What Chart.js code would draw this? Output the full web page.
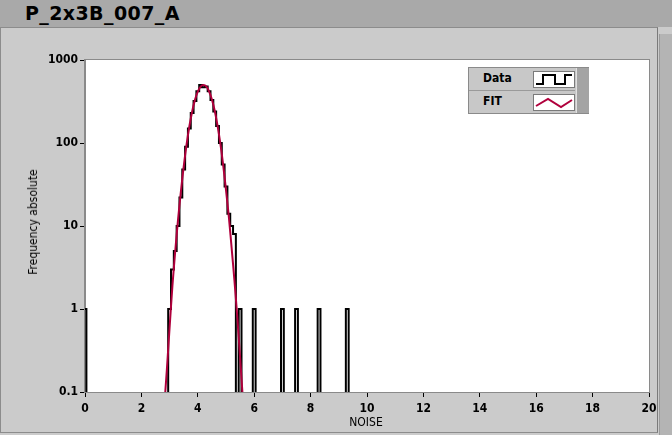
<!DOCTYPE html>
<html lang="en">
<head>
    <meta charset="UTF-8">
    <title>P_2x3B_007_A</title>
    <script src="https://cdn.jsdelivr.net/npm/chart.js"></script>
    <style>
        body {
            margin: 0;
            width: 672px;
            height: 435px;
            overflow: hidden;
            position: relative;
            background: #cbcbcb;
            font-family: 'DejaVu Sans Condensed', 'DejaVu Sans', sans-serif;
        }

        #topbar {
            position: absolute;
            left: 0; top: 0;
            width: 672px; height: 27px;
            background: #a9a9a9;
        }

        #title {
            position: absolute;
            left: 25px; top: 2px;
            font-family: 'DejaVu Sans', sans-serif;
            font-size: 19px;
            font-weight: bold;
            letter-spacing: 0.4px;
            color: #000;
        }

        #panel {
            position: absolute;
            left: 0; top: 27px;
            width: 656px; height: 404px;
            border-top: 1px solid #8c8c8c;
            border-left: 1px solid #8c8c8c;
            border-bottom: 1px solid #8c8c8c;
            border-right: 1px solid #7a7a7a;
            background: #cbcbcb;
        }

        #scrollbar {
            position: absolute;
            left: 659px; top: 34px;
            width: 13px; height: 401px;
            background: #b4b4b4;
            border-left: 1px solid #9a9a9a;
        }

        #chart {
            position: absolute;
            left: 0; top: 0;
        }

        .axis-title {
            position: absolute;
            font-size: 12px;
            color: #000;
            white-space: nowrap;
        }

        #ytitle {
            left: 33px; top: 222px;
            transform: translate(-50%, -50%) rotate(-90deg);
        }

        #xtitle {
            left: 366px; top: 422px;
            transform: translate(-50%, -50%);
        }

        #legend {
            position: absolute;
            left: 468px; top: 67px;
            width: 119px; height: 45px;
            background: #c8c8c8;
            border: 1px solid #8a8a8a;
        }

        .lg-row {
            position: absolute;
            left: 0;
            width: 106px; height: 22px;
        }

        .lg-label {
            position: absolute;
            left: 14px; top: 3px;
            font-size: 12px;
            font-weight: bold;
        }

        .lg-icon {
            position: absolute;
            left: 64px; top: 3px;
            width: 40px; height: 15px;
            background: #fff;
            border: 1px solid #7a7a7a;
        }

        #lg-strip {
            position: absolute;
            left: 107px; top: 0;
            width: 12px; height: 45px;
            background: #a4a4a4;
            border-left: 1px solid #e0e0e0;
        }
    </style>
</head>
<body>
    <div id="topbar"><div id="title">P_2x3B_007_A</div></div>
    <div id="panel"></div>
    <div id="scrollbar"></div>
    <canvas id="chart" width="672" height="435"></canvas>
    <div class="axis-title" id="ytitle">Frequency absolute</div>
    <div class="axis-title" id="xtitle">NOISE</div>
    <div id="legend">
        <div class="lg-row" style="top:0px">
            <span class="lg-label">Data</span>
            <div class="lg-icon">
                <svg width="40" height="15"><polyline points="2,12 9,12 9,3 21,3 21,12 31,12 31,3 38,3" fill="none" stroke="#000" stroke-width="2"/></svg>
            </div>
        </div>
        <div class="lg-row" style="top:22px; border-top:1px solid #9a9a9a">
            <span class="lg-label">FIT</span>
            <div class="lg-icon">
                <svg width="40" height="15"><polyline points="2,11 14,4 27,12 38,5" fill="none" stroke="#b0003c" stroke-width="2"/></svg>
            </div>
        </div>
        <div id="lg-strip"></div>
    </div>

    <script>
        // histogram bins (centre of each 0.1 wide bin) and counts
        const binWidth = 0.1;
        const binCenters = [0.0, 3.0, 3.1, 3.2, 3.3, 3.4, 3.5, 3.6, 3.7, 3.8, 3.9, 4.0, 4.1, 4.2, 4.3, 4.4,
                            4.5, 4.6, 4.7, 4.8, 4.9, 5.0, 5.1, 5.2, 5.3, 5.5, 6.0, 7.0, 7.5, 8.3, 9.3];
        const binCounts = [1, 1, 3, 5, 10, 22, 48, 90, 150, 230, 320, 420, 500, 470, 480, 420,
                           330, 240, 160, 100, 55, 30, 14, 10, 8, 1, 1, 1, 1, 1, 1];

        // fitted curve
        const fitX = [2.8, 2.9, 3.0, 3.1, 3.2, 3.3, 3.4, 3.5, 3.6, 3.7, 3.8, 3.9, 4.0, 4.1, 4.2,
                      4.3, 4.4, 4.5, 4.6, 4.7, 4.8, 4.9, 5.0, 5.1, 5.2, 5.3, 5.4, 5.5, 5.6];
        const fitY = [0.06, 0.18, 0.6, 1.9, 5.0, 12, 26, 52, 95, 158, 240, 331, 417, 479, 501,
                      482, 420, 335, 245, 162, 98, 54, 27, 13, 5.4, 2.2, 0.8, 0.26, 0.08];

        const xTicks = [0, 2, 4, 6, 8, 10, 12, 14, 16, 18, 20];
        const yTicks = [0.1, 1, 10, 100, 1000];

        const FLOOR = 0.01; // zero counts fall below the log axis

        function buildSteps(centers, counts, w) {
            const pts = [];
            let prevRight = null;
            centers.forEach((c, i) => {
                const left = c - w / 2;
                const touching = prevRight !== null && Math.abs(left - prevRight) < 1e-6;
                if (!touching) {
                    if (prevRight !== null) pts.push({ x: prevRight, y: FLOOR });
                    pts.push({ x: left, y: FLOOR });
                }
                pts.push({ x: left, y: counts[i] > 0 ? counts[i] : FLOOR });
                prevRight = c + w / 2;
            });
            pts.push({ x: prevRight, y: FLOOR });
            return pts;
        }

        const font = { family: "'DejaVu Sans Condensed', 'DejaVu Sans', sans-serif", size: 12, weight: 'bold' };

        const plotFrame = {
            id: 'plotFrame',
            beforeDraw(chart) {
                const a = chart.chartArea;
                const ctx = chart.ctx;
                ctx.save();
                ctx.fillStyle = '#ffffff';
                ctx.fillRect(a.left, a.top, a.right - a.left, a.bottom - a.top);
                ctx.restore();
            },
            afterDraw(chart) {
                const a = chart.chartArea;
                const ctx = chart.ctx;
                ctx.save();
                ctx.strokeStyle = '#8a8a8a';
                ctx.lineWidth = 1;
                ctx.strokeRect(a.left - 0.5, a.top - 0.5, a.right - a.left + 1, a.bottom - a.top + 1);
                ctx.restore();
            }
        };

        new Chart(document.getElementById('chart').getContext('2d'), {
            type: 'line',
            data: {
                datasets: [
                    {
                        label: 'FIT',
                        data: fitX.map((x, i) => ({ x: x, y: fitY[i] })),
                        borderColor: '#b0003c',
                        borderWidth: 2,
                        pointRadius: 0,
                        tension: 0.3,
                        order: 0
                    },
                    {
                        label: 'Data',
                        data: buildSteps(binCenters, binCounts, binWidth),
                        borderColor: '#000000',
                        borderWidth: 2,
                        pointRadius: 0,
                        stepped: 'before',
                        order: 1
                    }
                ]
            },
            options: {
                responsive: false,
                animation: false,
                devicePixelRatio: 1,
                layout: { padding: { top: 60, right: 23, left: 0, bottom: 0 } },
                plugins: {
                    legend: { display: false },
                    tooltip: { enabled: false }
                },
                scales: {
                    x: {
                        type: 'linear',
                        min: 0,
                        max: 20,
                        afterBuildTicks: s => { s.ticks = xTicks.map(v => ({ value: v })); },
                        afterFit: s => { s.height = 43; },
                        ticks: { color: '#000', font: font, padding: 5, maxRotation: 0 },
                        grid: { drawOnChartArea: false, drawTicks: true, tickLength: 5, color: '#000' },
                        border: { display: true, color: '#8a8a8a' }
                    },
                    y: {
                        type: 'logarithmic',
                        min: 0.1,
                        max: 1000,
                        afterBuildTicks: s => { s.ticks = yTicks.map(v => ({ value: v })); },
                        afterFit: s => { s.width = 85; },
                        ticks: { color: '#000', font: font, padding: 2, callback: v => String(v) },
                        grid: { drawOnChartArea: false, drawTicks: true, tickLength: 5, color: '#000' },
                        border: { display: true, color: '#8a8a8a' }
                    }
                }
            },
            plugins: [plotFrame]
        });
    </script>
</body>
</html>
